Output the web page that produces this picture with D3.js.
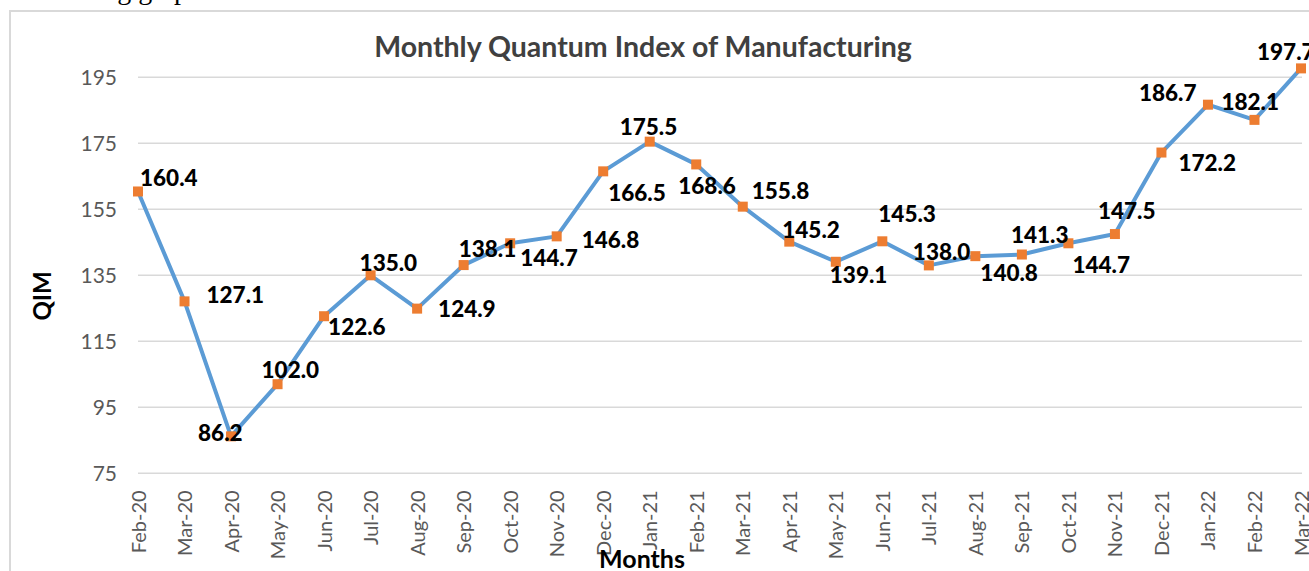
<!DOCTYPE html>
<html>
<head>
<meta charset="utf-8">
<script src="https://cdn.jsdelivr.net/npm/d3@7"></script>
<style>
  body { margin: 0; background: #fff; }
  svg { display: block; }
</style>
</head>
<body>
<div id="chart"></div>
<script>
// Data
var months = ["Feb-20","Mar-20","Apr-20","May-20","Jun-20","Jul-20","Aug-20","Sep-20","Oct-20","Nov-20",
              "Dec-20","Jan-21","Feb-21","Mar-21","Apr-21","May-21","Jun-21","Jul-21","Aug-21","Sep-21",
              "Oct-21","Nov-21","Dec-21","Jan-22","Feb-22","Mar-22"];
var qim = [160.4,127.1,86.2,102.0,122.6,135.0,124.9,138.1,144.7,146.8,
           166.5,175.5,168.6,155.8,145.2,139.1,145.3,138.0,140.8,141.3,
           144.7,147.5,172.2,186.7,182.1,197.7];
var yTicks = [75,95,115,135,155,175,195];

// label nudges (dx to left edge of label, dy to baseline), relative to each point
var labelNudge = [[2,-5],[22,2],[-33,5],[-16,-6],[4,19],[-11,-4],[21,8],[-5,-8],[10,23],[25,12],
                  [5,30],[-30,-7],[-18,30],[9,-8],[-7,-4],[-6,21],[-4,-19],[-16,-5],[5,25],[-11,-12],
                  [4,30],[-17,-15],[17,18],[-69,-4],[-33,-10],[-44,-8]];

var W = 1309, H = 571;

var svg = d3.select("#chart")
    .append("svg")
    .attr("width", W)
    .attr("height", H);

// Text above the chart (clipped by the page top)
svg.append("text")
    .attr("x", 202).attr("y", -1)
    .attr("text-anchor", "end")
    .style("font-family", "'Liberation Serif', serif")
    .style("font-size", "28px")
    .text("following graph");

// Chart frame
svg.append("rect")
    .attr("x", 10).attr("y", 11)
    .attr("width", 1400).attr("height", 700)
    .style("fill", "none")
    .style("stroke", "#d9d9d9")
    .style("stroke-width", 2);

// Scales
var x = d3.scalePoint()
    .domain(months)
    .range([138, 1301]);

var y = d3.scaleLinear()
    .domain([75, 195])
    .range([473.3, 77.3]);

// Gridlines
svg.append("g")
    .selectAll("line")
    .data(yTicks)
    .enter()
    .append("line")
    .attr("x1", 138).attr("x2", 1302)
    .attr("y1", function(d) { return y(d); })
    .attr("y2", function(d) { return y(d); })
    .style("stroke", "#d9d9d9")
    .style("stroke-width", 1.5);

// Y axis labels
var yAxis = svg.append("g")
    .attr("transform", "translate(138,0)")
    .call(d3.axisLeft(y).tickValues(yTicks).tickSize(0).tickPadding(21));
yAxis.select(".domain").remove();
yAxis.selectAll("text")
    .style("font-family", "Lato, sans-serif")
    .style("font-size", "21px")
    .style("fill", "#595959");

// X axis labels, rotated
var xAxis = svg.append("g")
    .attr("transform", "translate(0," + 473.3 + ")")
    .call(d3.axisBottom(x).tickSize(0));
xAxis.select(".domain").remove();
xAxis.selectAll("text")
    .attr("transform", "rotate(-90)")
    .attr("x", -17)
    .attr("y", 0)
    .attr("dy", "0.35em")
    .attr("text-anchor", "end")
    .style("font-family", "Lato, sans-serif")
    .style("font-size", "20px")
    .style("fill", "#595959");

// The line
var line = d3.line()
    .x(function(d, i) { return x(months[i]); })
    .y(function(d) { return y(d); });

svg.append("path")
    .datum(qim)
    .attr("d", line)
    .style("fill", "none")
    .style("stroke", "#5b9bd5")
    .style("stroke-width", 4)
    .style("stroke-linejoin", "round");

// Markers
svg.selectAll("rect.marker")
    .data(qim)
    .enter()
    .append("rect")
    .attr("class", "marker")
    .attr("x", function(d, i) { return x(months[i]) - 5; })
    .attr("y", function(d) { return y(d) - 5; })
    .attr("width", 10)
    .attr("height", 10)
    .style("fill", "#ed7d31");

// Data labels
svg.selectAll("text.lbl")
    .data(qim)
    .enter()
    .append("text")
    .attr("class", "lbl")
    .attr("x", function(d, i) { return x(months[i]) + labelNudge[i][0]; })
    .attr("y", function(d, i) { return y(d) + labelNudge[i][1]; })
    .style("font-family", "Lato, sans-serif")
    .style("font-weight", "900")
    .style("font-size", "22.5px")
    .style("fill", "#000")
    .text(function(d) { return d.toFixed(1); });

// Title
svg.append("text")
    .attr("x", 643).attr("y", 57)
    .attr("text-anchor", "middle")
    .style("font-family", "Lato, sans-serif")
    .style("font-weight", "bold")
    .style("font-size", "28.5px")
    .style("fill", "#404040")
    .text("Monthly Quantum Index of Manufacturing");

// Axis titles
svg.append("text")
    .attr("transform", "translate(51,296) rotate(-90)")
    .attr("text-anchor", "middle")
    .style("font-family", "Lato, sans-serif")
    .style("font-weight", "bold")
    .style("font-size", "24px")
    .style("fill", "#000")
    .text("QIM");

svg.append("text")
    .attr("x", 642).attr("y", 568)
    .attr("text-anchor", "middle")
    .style("font-family", "Lato, sans-serif")
    .style("font-weight", "bold")
    .style("font-size", "25px")
    .style("fill", "#000")
    .text("Months");
</script>
</body>
</html>
